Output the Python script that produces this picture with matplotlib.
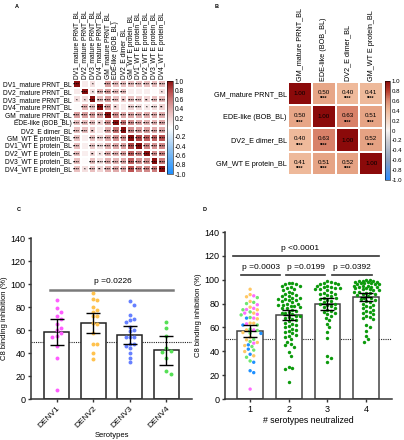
import matplotlib
matplotlib.use('Agg')
import matplotlib.pyplot as plt
import numpy as np
from matplotlib.colors import LinearSegmentedColormap

plt.rcParams['font.family'] = ['Liberation Sans', 'DejaVu Sans']

#=====================================================
# data

labels_a = ['DV1_mature PRNT_BL', 'DV2_mature PRNT_BL', 'DV3_mature PRNT_BL',
            'DV4_mature PRNT_BL', 'GM_mature PRNT_BL', 'EDE-like (BOB_BL)',
            'DV2_E dimer_BL', 'GM_WT E protein_BL', 'DV1_WT E protein_BL',
            'DV2_WT E protein_BL', 'DV3_WT E protein_BL', 'DV4_WT E protein_BL']

corr_a = [
    [1.00, 0.10, 0.15, 0.02, 0.45, 0.30, 0.30, 0.30, 0.30, 0.30, 0.30, 0.30],
    [0.10, 1.00, 0.15, 0.35, 0.45, 0.30, 0.30, 0.08, 0.08, 0.08, 0.02, 0.15],
    [0.15, 0.15, 1.00, 0.30, 0.45, 0.30, 0.25, 0.30, 0.25, 0.20, 0.30, 0.30],
    [0.02, 0.35, 0.30, 1.00, 0.45, 0.20, 0.10, 0.20, 0.15, 0.10, 0.15, 0.20],
    [0.45, 0.45, 0.45, 0.45, 1.00, 0.50, 0.40, 0.41, 0.38, 0.38, 0.38, 0.38],
    [0.30, 0.30, 0.30, 0.20, 0.50, 1.00, 0.63, 0.51, 0.40, 0.35, 0.35, 0.40],
    [0.30, 0.30, 0.25, 0.10, 0.40, 0.63, 1.00, 0.52, 0.45, 0.45, 0.40, 0.40],
    [0.30, 0.08, 0.30, 0.20, 0.41, 0.51, 0.52, 1.00, 0.80, 0.70, 0.70, 0.75],
    [0.30, 0.08, 0.25, 0.15, 0.38, 0.40, 0.45, 0.80, 1.00, 0.55, 0.50, 0.55],
    [0.30, 0.08, 0.20, 0.10, 0.38, 0.35, 0.45, 0.70, 0.55, 1.00, 0.50, 0.55],
    [0.30, 0.02, 0.30, 0.15, 0.38, 0.35, 0.40, 0.70, 0.50, 0.50, 1.00, 0.60],
    [0.30, 0.15, 0.30, 0.20, 0.38, 0.40, 0.40, 0.75, 0.55, 0.55, 0.60, 1.00]]

stars_a = [
    [4, 0, 1, 0, 4, 4, 4, 4, 4, 4, 4, 4],
    [0, 4, 1, 4, 4, 4, 4, 0, 0, 0, 0, 1],
    [1, 1, 4, 4, 4, 4, 2, 4, 4, 2, 4, 4],
    [0, 4, 4, 4, 4, 2, 0, 4, 4, 1, 4, 2],
    [4, 4, 4, 4, 4, 4, 4, 4, 4, 4, 4, 4],
    [4, 4, 4, 2, 4, 4, 4, 4, 4, 4, 4, 4],
    [4, 4, 2, 0, 4, 4, 4, 4, 4, 4, 4, 4],
    [4, 0, 4, 4, 4, 4, 4, 4, 4, 4, 4, 4],
    [4, 0, 4, 4, 4, 4, 4, 4, 4, 4, 4, 4],
    [4, 0, 2, 1, 4, 4, 4, 4, 4, 4, 4, 4],
    [4, 0, 4, 4, 4, 4, 4, 4, 4, 4, 4, 4],
    [4, 1, 4, 2, 4, 4, 4, 4, 4, 4, 4, 4]]

labels_b = ['GM_mature PRNT_BL', 'EDE-like (BOB_BL)', 'DV2_E dimer_BL', 'GM_WT E protein_BL']
corr_b = [[1.00, 0.50, 0.40, 0.41],
          [0.50, 1.00, 0.63, 0.51],
          [0.40, 0.63, 1.00, 0.52],
          [0.41, 0.51, 0.52, 1.00]]

serotypes = ['DENV1', 'DENV2', 'DENV3', 'DENV4']
denv1 = [86, 79, 76, 72, 70, 65, 62, 60, 57, 55, 54, 46, 36, 8]
denv2 = [92, 87, 86, 80, 77, 76, 72, 72, 66, 65, 57, 48, 48, 40, 35]
denv3 = [85, 82, 73, 70, 69, 67, 63, 60, 59, 54, 54, 54, 48, 48, 46, 44, 40, 36, 32]
denv4 = [67, 62, 55, 44, 42, 41, 36, 24, 22]
mean_c = [58, 66, 55.5, 42.5]
low_c = [47, 57, 48, 30]
high_c = [69.5, 75, 63.5, 55]

n_neutralized = [1, 2, 3, 4]
g1_orange = [92, 87.5, 85.7, 81.8, 77, 74.8, 72, 67.2, 63.5, 63.6, 57.9, 55.7, 51.8, 49.6, 47.4, 44.8, 39.8, 36.2]
g1_green = [85, 81, 80, 74.8, 73, 70.5, 68.3, 62, 57.4, 58.5, 55.2, 50, 48.2, 44, 41, 35, 31.9]
g1_magenta = [86.5, 79, 76, 75, 72, 71, 67.8, 63, 57.9, 46.8, 8.3]
g1_blue = [67.8, 62, 55, 45.4, 41.8, 37.5, 30.8, 23.7, 22.1]
group2 = [97, 97, 96, 96, 95, 95, 94, 93, 92, 91, 90, 89, 88, 87, 86, 86, 85, 85, 84, 84,
          83, 83, 82, 81, 80, 80, 79, 79, 78, 78, 77, 76, 76, 75, 74, 73, 72, 72, 71, 70,
          70, 69, 68, 67, 66, 65, 64, 63, 62, 61, 60, 59, 58, 57, 56, 55, 54, 53, 52, 50,
          48, 46, 45, 44, 39, 36, 27, 26, 25.5, 14]
group3 = [99, 98, 97, 97, 96, 96, 95, 95, 94, 94, 93, 93, 92, 92, 91, 90, 89, 88, 88, 87,
          86, 85, 85, 84, 83, 82, 81, 80, 80, 79, 78, 77, 76, 75, 74, 73, 72, 71, 70, 68,
          66, 63, 60, 56, 51, 36, 34, 31]
group4 = [100, 100, 99, 99, 99, 98, 98, 98, 97, 97, 97, 96, 96, 96, 95, 95, 95, 94, 94, 94,
          93, 93, 92, 92, 91, 91, 90, 90, 89, 89, 88, 88, 87, 86, 85, 85, 84, 83, 82, 81,
          80, 79, 78, 77, 76, 75, 74, 73, 72, 71, 70, 69, 68, 67, 62, 60, 57, 53, 50, 48]
mean_d = [57, 70.5, 79.8, 85.8]
low_d = [52, 66, 75, 82.5]
high_d = [62, 75, 85, 89]

#=====================================================

W, H = 404, 440


def px_axes(fig, x0, y0, x1, y1):
    return fig.add_axes([x0 / W, 1 - y1 / H, (x1 - x0) / W, (y1 - y0) / H])


def swarm(values, px_x, px_y, diam, max_px):
    # simple beeswarm: offsets (data units) so markers do not overlap
    step = diam * 0.5
    cands = [0.0]
    k = 1
    while k * step <= max_px:
        cands += [k * step, -k * step]
        k += 1
    placed = []
    offs = np.zeros(len(values))
    for i in np.argsort(values)[::-1]:
        y = values[i] * px_y
        best, bestd = 0.0, -1
        for c in cands:
            dmin = min([np.hypot(c - px, y - py) for px, py in placed], default=1e9)
            if dmin >= diam:
                best = c
                break
            if dmin > bestd:
                bestd, best = dmin, c
        placed.append((best, y))
        offs[i] = best / px_x
    return offs


def heatmap(fig, rect, cbrect, mat, labels, cmap, fs, cbfs):
    ax = px_axes(fig, *rect)
    n = len(labels)
    mesh = ax.pcolormesh(np.array(mat), cmap=cmap, vmin=-1, vmax=1,
                         edgecolors='white', linewidth=0.25)
    ax.set_xlim(0, n)
    ax.set_ylim(n, 0)
    ax.set_xticks(np.arange(n) + 0.5)
    ax.set_yticks(np.arange(n) + 0.5)
    ax.set_yticklabels(labels, fontsize=fs)
    ax.xaxis.tick_top()
    ax.set_xticklabels(labels, fontsize=fs, rotation=90)
    ax.tick_params(length=0, pad=1)
    for s in ax.spines.values():
        s.set_visible(False)
    cax = px_axes(fig, *cbrect)
    cb = fig.colorbar(mesh, cax=cax, ticks=np.round(np.arange(-1, 1.01, 0.2), 1))
    cb.ax.set_yticklabels(['0' if abs(t) < 1e-9 else f'{t:.1f}'
                           for t in np.round(np.arange(-1, 1.01, 0.2), 1)], fontsize=cbfs)
    cb.ax.tick_params(length=0, pad=1)
    cb.outline.set_linewidth(0.4)
    return ax


def bar_axes(ax, xlim):
    ax.set_xlim(*xlim)
    ax.set_ylim(0, 140)
    ax.set_yticks(np.arange(0, 141, 20))
    for s in ['top', 'right']:
        ax.spines[s].set_visible(False)
    for s in ['left', 'bottom']:
        ax.spines[s].set_linewidth(1.1)
        ax.spines[s].set_color('#333333')
    ax.tick_params(length=2.5, width=1.0, color='#333333', labelsize=6.5, pad=1.5)
    ax.axhline(50, color='#222222', linestyle=(0, (1, 1)), linewidth=0.8, zorder=1)


def main():
    fig = plt.figure(figsize=(W / 100, H / 100), dpi=100)

    # ---------- A
    cmap_a = LinearSegmentedColormap.from_list('a', [
        (0.0, '#1e8fff'), (0.25, '#8cc0f0'), (0.5, '#ffffff'), (0.65, '#eac0c0'),
        (0.75, '#d89696'), (0.88, '#bc5252'), (1.0, '#8b0f0f')])
    ax_a = heatmap(fig, (73, 80, 166, 173), (167, 81, 173, 174), corr_a, labels_a,
                   cmap_a, 4.8, 4.8)
    for i in range(len(labels_a)):
        for j in range(len(labels_a)):
            if stars_a[i][j]:
                ax_a.text(j + 0.5, i + 0.6, '*' * stars_a[i][j], fontsize=3.2,
                          ha='center', va='center', color='black', fontweight='bold')

    # ---------- B
    cmap_b = LinearSegmentedColormap.from_list('b', [
        (0.0, '#2b8cff'), (0.2, '#8ea0bc'), (0.4, '#d0d0d6'), (0.5, '#f8f4f2'),
        (0.7, '#efbb9c'), (0.75, '#e8a888'), (0.815, '#d8826a'), (0.9, '#b83c2c'),
        (1.0, '#8b0a0a')])
    ax_b = heatmap(fig, (288, 82, 383, 175), (385, 81, 390, 180), corr_b, labels_b,
                   cmap_b, 5.2, 4.4)
    for i in range(len(labels_b)):
        for j in range(len(labels_b)):
            v = corr_b[i][j]
            if i == j:
                ax_b.text(j + 0.5, i + 0.5, f'{v:.2f}', fontsize=4.5, ha='center', va='center')
            else:
                ax_b.text(j + 0.5, i + 0.45, f'{v:.2f}', fontsize=4.5, ha='center', va='center')
                ax_b.text(j + 0.5, i + 0.72, '****', fontsize=3.4, ha='center', va='center',
                          fontweight='bold')

    # ---------- C
    ax_c = px_axes(fig, 31, 238, 192, 399)
    bar_axes(ax_c, (-0.7, 3.7))
    xc = np.arange(len(serotypes))
    ax_c.bar(xc, mean_c, width=0.68, color='white', edgecolor='#222222', linewidth=1.1, zorder=2)
    ax_c.errorbar(xc, mean_c, yerr=[np.array(mean_c) - np.array(low_c),
                                    np.array(high_c) - np.array(mean_c)],
                  fmt='none', ecolor='black', elinewidth=1.0, capsize=5, capthick=1.0, zorder=4)
    cols_c = ['#ff5cff', '#ffc24d', '#6680ff', '#55e055']
    for k, vals in enumerate([denv1, denv2, denv3, denv4]):
        vals = np.array(vals, float)
        offs = swarm(vals, 36.7, 1.15, 4.2, 11)
        ax_c.scatter(xc[k] + offs, vals, s=8, color=cols_c[k], linewidths=0, zorder=3)
    ax_c.plot([-0.18, 3.18], [95, 95], color='#7a7a7a', linewidth=1.8, zorder=2)
    ax_c.text(1.54, 99, 'p =0.0226', fontsize=6, ha='center', va='bottom')
    ax_c.set_xticks(xc)
    ax_c.set_xticklabels(serotypes, rotation=45, ha='right', rotation_mode='anchor', fontsize=6)
    ax_c.set_xlabel('Serotypes', fontsize=5.5, labelpad=2)
    ax_c.set_ylabel('C8 binding inhibition (%)', fontsize=5.5, labelpad=2)

    # ---------- D
    ax_d = px_axes(fig, 225, 232, 392, 399)
    bar_axes(ax_d, (0.35, 4.67))
    ax_d.bar(n_neutralized, mean_d, width=0.66, color='white', edgecolor='#444444',
             linewidth=1.1, zorder=2)
    g1_vals = np.array(g1_orange + g1_green + g1_magenta + g1_blue, float)
    g1_cols = (['#ffc864'] * len(g1_orange) + ['#6ee66e'] * len(g1_green)
               + ['#ff6cff'] * len(g1_magenta) + ['#1e90ff'] * len(g1_blue))
    offs = swarm(g1_vals, 38.7, 1.19, 3.6, 12)
    ax_d.scatter(1 + offs, g1_vals, s=6, c=g1_cols, linewidths=0, zorder=3)
    for k, vals in zip([2, 3, 4], [group2, group3, group4]):
        vals = np.array(vals, float)
        offs = swarm(vals, 38.7, 1.19, 3.6, 14)
        ax_d.scatter(k + offs, vals, s=6, color='#0c9a0c', linewidths=0, zorder=3)
    ax_d.errorbar(n_neutralized, mean_d, yerr=[np.array(mean_d) - np.array(low_d),
                                               np.array(high_d) - np.array(mean_d)],
                  fmt='none', ecolor='black', elinewidth=1.0, capsize=5, capthick=1.0, zorder=4)
    ax_d.plot(n_neutralized, mean_d, linestyle='none', marker='_', markersize=9,
              color='black', markeredgewidth=1.0, zorder=4)
    ax_d.plot([0.56, 4.33], [119.6, 119.6], color='#333333', linewidth=1.2)
    ax_d.text(2.29, 123, 'p <0.0001', fontsize=6, ha='center', va='bottom')
    for x0, x1, txt in [(0.77, 1.78, 'p =0.0003'), (1.93, 2.94, 'p =0.0199'),
                        (3.12, 4.15, 'p =0.0392')]:
        ax_d.plot([x0, x1], [104, 104], color='#333333', linewidth=1.2)
        ax_d.text((x0 + x1) / 2, 107.5, txt, fontsize=6, ha='center', va='bottom')
    ax_d.set_xticks(n_neutralized)
    ax_d.set_xticklabels([str(n) for n in n_neutralized], fontsize=6.5)
    ax_d.set_xlabel('# serotypes neutralized', fontsize=6.3, labelpad=2)
    ax_d.set_ylabel('C8 binding inhibition (%)', fontsize=5.5, labelpad=2)

    # panel letters
    for x, y, t in [(15, 4, 'A'), (215, 4, 'B'), (17, 207, 'C'), (203, 207, 'D')]:
        fig.text(x / W, 1 - y / H, t, fontsize=4, fontweight='bold', va='top')

    fig.savefig('out.png', dpi=100)

    return


if __name__ == '__main__':
    main()
